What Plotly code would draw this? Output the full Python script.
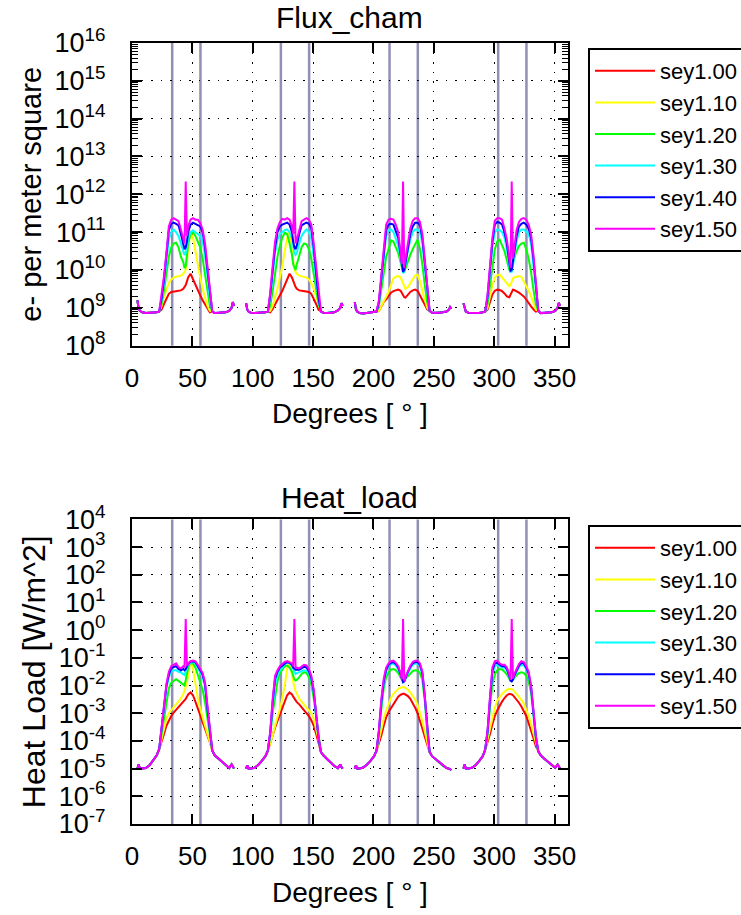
import plotly.graph_objects as go

# ---------------------------------------------------------------------------
# Angular layout: four 80-degree windows, one per quadrant, sampled at the
# same offsets (degrees) relative to each window centre.
# ---------------------------------------------------------------------------
segment_centres = [44.5, 134.5, 224.5, 314.5]
offsets_left = [-40, -39, -38, -36, -33, -30, -27, -24, -22]
offsets_core = [-20, -18, -16, -14, -12, -10, -8, -6, -4, -2, -1, 0, 1, 2,
                4, 6, 8, 10, 12, 14, 16, 18, 20]
offsets_right = [22, 24, 27, 30, 33, 36, 38, 39, 40]

# Angular position of the vertical reference lines (degrees)
marker_angles = [33.3, 56.7, 123.3, 146.7, 213.3, 236.7, 303.3, 326.7]

series_names = ["sey1.00", "sey1.10", "sey1.20", "sey1.30", "sey1.40", "sey1.50"]
series_colours = ["#ff0000", "#ffff00", "#00ff00", "#00ffff", "#0000ff", "#ff00ff"]

x_ticks = [0, 50, 100, 150, 200, 250, 300, 350]
flux_decades = [8, 9, 10, 11, 12, 13, 14, 15, 16]
heat_decades = [-7, -6, -5, -4, -3, -2, -1, 0, 1, 2, 3, 4]

# ---------------------------------------------------------------------------
# Flux_cham: log10(e- per m^2). Flat shoulders shared by all SEY values.
# ---------------------------------------------------------------------------
flux_log_left = [
    [9.20, 8.98, 8.92, 8.88, 8.86, 8.87, 8.86, 8.88, 8.90],
    [9.12, 8.95, 8.90, 8.87, 8.86, 8.86, 8.87, 8.88, 8.90],
    [9.15, 8.96, 8.90, 8.86, 8.85, 8.86, 8.87, 8.88, 8.90],
    [9.12, 8.96, 8.90, 8.87, 8.86, 8.87, 8.86, 8.88, 8.90],
]
flux_log_right = [
    [8.90, 8.86, 8.86, 8.87, 8.88, 8.92, 9.00, 9.15, 9.05],
    [8.90, 8.87, 8.86, 8.86, 8.88, 8.93, 9.00, 9.12, 9.05],
    [8.92, 8.87, 8.86, 8.87, 8.88, 8.90, 8.95, 9.02, 8.98],
    [8.92, 8.86, 8.86, 8.87, 8.88, 8.92, 9.00, 9.13, 9.05],
]

flux_log_sey100 = [
    [8.95, 9.10, 9.25, 9.37, 9.42, 9.44, 9.44, 9.45, 9.46, 9.50, 9.55, 9.60,
     9.70, 9.80, 9.90, 9.75, 9.60, 9.45, 9.33, 9.20, 9.08, 8.97, 8.88],
    [8.88, 8.97, 9.08, 9.20, 9.33, 9.45, 9.60, 9.75, 9.90, 9.80, 9.70, 9.60,
     9.55, 9.50, 9.46, 9.45, 9.44, 9.44, 9.42, 9.37, 9.25, 9.10, 8.95],
    [8.92, 9.05, 9.15, 9.22, 9.32, 9.40, 9.44, 9.47, 9.48, 9.45, 9.40, 9.33,
     9.28, 9.27, 9.35, 9.42, 9.46, 9.48, 9.45, 9.33, 9.20, 9.08, 8.96],
    [8.95, 9.15, 9.35, 9.45, 9.48, 9.47, 9.44, 9.38, 9.30, 9.28, 9.35, 9.45,
     9.48, 9.47, 9.44, 9.40, 9.35, 9.30, 9.22, 9.12, 9.04, 8.96, 8.90],
]
flux_log_sey110 = [
    [9.05, 9.30, 9.50, 9.65, 9.75, 9.80, 9.82, 9.83, 9.85, 9.90, 9.95, 10.00,
     10.20, 10.55, 11.00, 10.85, 10.50, 10.10, 9.80, 9.50, 9.25, 9.05, 8.92],
    [8.92, 9.05, 9.25, 9.50, 9.80, 10.10, 10.50, 10.85, 11.00, 10.55, 10.20, 10.00,
     9.95, 9.90, 9.85, 9.83, 9.82, 9.80, 9.75, 9.65, 9.50, 9.30, 9.05],
    [8.92, 9.05, 9.20, 9.32, 9.42, 9.60, 9.78, 9.82, 9.84, 9.80, 9.72, 9.65,
     9.55, 9.50, 9.55, 9.65, 9.75, 9.85, 9.88, 9.70, 9.45, 9.20, 9.00],
    [9.00, 9.30, 9.60, 9.80, 9.86, 9.88, 9.80, 9.72, 9.65, 9.57, 9.60, 9.68,
     9.78, 9.80, 9.82, 9.84, 9.82, 9.70, 9.60, 9.45, 9.30, 9.12, 8.95],
]
flux_log_sey120 = [
    [9.10, 9.45, 9.90, 10.35, 10.60, 10.70, 10.72, 10.60, 10.35, 10.20, 10.05, 10.10,
     10.40, 10.70, 10.95, 11.00, 10.90, 10.75, 10.60, 10.30, 9.85, 9.40, 9.05],
    [9.05, 9.45, 9.90, 10.35, 10.65, 10.85, 10.98, 10.95, 10.70, 10.40, 10.15, 10.05,
     10.00, 10.15, 10.35, 10.60, 10.70, 10.68, 10.55, 10.30, 9.90, 9.45, 9.10],
    [9.05, 9.50, 9.95, 10.35, 10.55, 10.78, 10.75, 10.60, 10.45, 10.20, 10.05, 9.95,
     9.95, 10.05, 10.20, 10.40, 10.55, 10.70, 10.80, 10.55, 10.15, 9.60, 9.15],
    [9.10, 9.60, 10.15, 10.55, 10.75, 10.80, 10.65, 10.50, 10.25, 10.00, 9.98, 10.05,
     10.20, 10.30, 10.50, 10.63, 10.70, 10.72, 10.55, 10.30, 9.95, 9.48, 9.10],
]
flux_log_sey130 = [
    [9.20, 9.65, 10.20, 10.80, 11.00, 11.07, 11.00, 10.90, 10.70, 10.45, 10.40, 10.45,
     10.60, 10.85, 11.00, 11.05, 11.00, 10.95, 10.90, 10.75, 10.40, 9.85, 9.25],
    [9.25, 9.85, 10.45, 10.80, 10.95, 11.00, 11.05, 11.07, 11.00, 10.85, 10.60, 10.45,
     10.40, 10.45, 10.70, 10.90, 11.00, 11.07, 11.00, 10.85, 10.35, 9.75, 9.20],
    [9.10, 9.65, 10.35, 10.90, 11.05, 11.07, 11.00, 10.85, 10.65, 10.30, 10.05, 9.92,
     9.95, 10.15, 10.50, 10.80, 11.00, 11.07, 11.07, 11.00, 10.70, 10.05, 9.45],
    [9.25, 9.90, 10.60, 11.00, 11.07, 11.05, 11.00, 10.85, 10.55, 10.10, 9.95, 9.95,
     10.10, 10.35, 10.75, 11.00, 11.07, 11.07, 11.00, 10.95, 10.70, 10.15, 9.45],
]
flux_log_sey140 = [
    [9.25, 9.75, 10.35, 11.05, 11.22, 11.25, 11.22, 11.18, 10.95, 10.65, 10.55, 10.60,
     10.75, 11.00, 11.20, 11.25, 11.22, 11.20, 11.15, 11.00, 10.60, 10.00, 9.35],
    [9.35, 10.00, 10.60, 11.00, 11.15, 11.20, 11.22, 11.25, 11.20, 11.00, 10.75, 10.60,
     10.55, 10.65, 10.95, 11.18, 11.22, 11.25, 11.22, 11.10, 10.60, 10.00, 9.25],
    [9.15, 9.75, 10.50, 11.05, 11.20, 11.22, 11.20, 11.05, 10.85, 10.40, 10.10, 9.95,
     10.00, 10.20, 10.60, 10.95, 11.15, 11.25, 11.25, 11.18, 10.85, 10.20, 9.55],
    [9.30, 10.00, 10.75, 11.20, 11.27, 11.25, 11.20, 11.00, 10.70, 10.20, 9.98, 10.00,
     10.20, 10.45, 10.90, 11.15, 11.22, 11.25, 11.20, 11.10, 10.85, 10.30, 9.50],
]
flux_log_sey150 = [
    [9.31, 9.84, 10.45, 11.15, 11.33, 11.37, 11.33, 11.29, 11.07, 10.80, 10.70, 12.34,
     10.90, 11.15, 11.33, 11.37, 11.33, 11.33, 11.24, 11.07, 10.70, 10.10, 9.40],
    [9.40, 10.10, 10.75, 11.10, 11.27, 11.35, 11.33, 11.37, 11.33, 11.15, 10.95, 12.34,
     10.70, 10.80, 11.07, 11.29, 11.33, 11.37, 11.33, 11.20, 10.70, 10.10, 9.35],
    [9.20, 9.92, 10.65, 11.20, 11.33, 11.35, 11.33, 11.20, 11.00, 10.50, 10.15, 12.34,
     10.05, 10.30, 10.75, 11.10, 11.30, 11.37, 11.37, 11.27, 10.95, 10.30, 9.60],
    [9.35, 10.10, 10.85, 11.30, 11.37, 11.37, 11.33, 11.10, 10.80, 10.30, 10.05, 12.34,
     10.30, 10.55, 11.05, 11.27, 11.35, 11.37, 11.33, 11.20, 10.95, 10.40, 9.60],
]

# ---------------------------------------------------------------------------
# Heat_load: log10(W/m^2). Flat shoulders shared by all SEY values.
# ---------------------------------------------------------------------------
heat_log_left = [
    [-5.00, -4.85, -5.00, -5.00, -4.98, -4.88, -4.72, -4.52, -4.30],
    [-5.00, -4.88, -5.00, -5.00, -4.97, -4.87, -4.72, -4.55, -4.35],
    [-5.00, -4.88, -5.00, -5.00, -4.96, -4.86, -4.72, -4.55, -4.35],
    [-5.00, -4.85, -5.00, -5.00, -4.97, -4.88, -4.73, -4.55, -4.32],
]
heat_log_right = [
    [-4.35, -4.52, -4.63, -4.75, -4.88, -4.98, -4.85, -4.95, -5.00],
    [-4.40, -4.52, -4.65, -4.77, -4.90, -4.98, -4.85, -4.95, -5.00],
    [-4.40, -4.55, -4.66, -4.78, -4.90, -4.98, -5.00, -5.02, -5.05],
    [-4.38, -4.52, -4.64, -4.76, -4.88, -4.97, -4.85, -4.95, -5.00],
]

heat_log_sey100 = [
    [-4.05, -3.75, -3.45, -3.25, -3.10, -2.98, -2.88, -2.78, -2.68, -2.60, -2.55, -2.48,
     -2.40, -2.32, -2.25, -2.35, -2.58, -2.82, -3.05, -3.28, -3.52, -3.78, -4.05],
    [-4.05, -3.78, -3.52, -3.28, -3.05, -2.82, -2.58, -2.35, -2.25, -2.32, -2.40, -2.48,
     -2.55, -2.60, -2.68, -2.78, -2.88, -2.98, -3.10, -3.25, -3.45, -3.75, -4.05],
    [-4.10, -3.80, -3.45, -3.15, -2.95, -2.80, -2.65, -2.50, -2.40, -2.33, -2.30, -2.30,
     -2.30, -2.32, -2.38, -2.48, -2.62, -2.80, -3.00, -3.25, -3.55, -3.85, -4.15],
    [-4.05, -3.75, -3.40, -3.10, -2.90, -2.72, -2.58, -2.45, -2.35, -2.30, -2.30, -2.32,
     -2.35, -2.40, -2.50, -2.62, -2.76, -2.92, -3.10, -3.35, -3.60, -3.90, -4.20],
]
heat_log_sey110 = [
    [-3.95, -3.55, -3.20, -3.00, -2.88, -2.78, -2.68, -2.58, -2.47, -2.30, -2.20, -2.05,
     -1.90, -1.65, -1.10, -1.40, -2.00, -2.45, -2.85, -3.15, -3.45, -3.80, -4.10],
    [-4.10, -3.80, -3.45, -3.15, -2.85, -2.45, -2.00, -1.40, -1.10, -1.65, -1.90, -2.05,
     -2.20, -2.30, -2.47, -2.58, -2.68, -2.78, -2.88, -3.00, -3.20, -3.55, -3.95],
    [-3.95, -3.60, -3.20, -2.90, -2.65, -2.45, -2.30, -2.20, -2.12, -2.08, -2.06, -2.05,
     -2.06, -2.08, -2.15, -2.25, -2.38, -2.50, -2.70, -2.98, -3.30, -3.65, -4.00],
    [-3.95, -3.55, -3.10, -2.80, -2.55, -2.40, -2.30, -2.22, -2.15, -2.12, -2.12, -2.13,
     -2.15, -2.20, -2.28, -2.40, -2.52, -2.65, -2.85, -3.10, -3.40, -3.75, -4.10],
]
heat_log_sey120 = [
    [-3.75, -3.10, -2.60, -2.10, -1.90, -1.82, -1.77, -1.83, -1.89, -1.95, -2.00, -1.80,
     -1.50, -1.35, -1.17, -1.20, -1.35, -1.60, -1.85, -2.15, -2.60, -3.15, -3.75],
    [-3.80, -3.00, -2.35, -1.85, -1.55, -1.40, -1.30, -1.28, -1.35, -1.50, -1.65, -1.78,
     -1.82, -1.80, -1.70, -1.58, -1.52, -1.55, -1.70, -1.95, -2.45, -3.10, -3.80],
    [-3.75, -2.85, -2.10, -1.70, -1.52, -1.42, -1.40, -1.45, -1.55, -1.72, -1.80, -1.83,
     -1.80, -1.75, -1.65, -1.55, -1.48, -1.45, -1.46, -1.55, -1.80, -2.55, -3.65],
    [-3.75, -2.80, -1.95, -1.60, -1.45, -1.40, -1.42, -1.50, -1.60, -1.75, -1.82, -1.83,
     -1.80, -1.72, -1.62, -1.55, -1.52, -1.55, -1.65, -1.85, -2.25, -3.10, -3.90],
]
heat_log_sey130 = [
    [-3.60, -2.75, -2.10, -1.70, -1.50, -1.45, -1.45, -1.50, -1.52, -1.60, -1.62, -1.50,
     -1.35, -1.25, -1.17, -1.15, -1.20, -1.35, -1.50, -1.68, -2.05, -2.90, -3.65],
    [-3.75, -2.80, -1.95, -1.65, -1.45, -1.35, -1.22, -1.18, -1.20, -1.30, -1.42, -1.50,
     -1.58, -1.55, -1.52, -1.48, -1.45, -1.47, -1.55, -1.78, -2.25, -3.10, -3.95],
    [-3.70, -2.70, -1.95, -1.50, -1.30, -1.22, -1.20, -1.28, -1.40, -1.62, -1.80, -1.88,
     -1.85, -1.75, -1.55, -1.38, -1.25, -1.20, -1.20, -1.30, -1.60, -2.45, -3.60],
    [-3.70, -2.60, -1.60, -1.30, -1.25, -1.30, -1.35, -1.35, -1.45, -1.68, -1.82, -1.85,
     -1.80, -1.68, -1.50, -1.33, -1.25, -1.27, -1.40, -1.60, -2.10, -3.00, -3.90],
]
heat_log_sey140 = [
    [-3.55, -2.65, -2.00, -1.60, -1.38, -1.33, -1.30, -1.40, -1.45, -1.40, -1.45, -1.40,
     -1.30, -1.22, -1.13, -1.12, -1.15, -1.28, -1.45, -1.60, -1.95, -2.85, -3.62],
    [-3.70, -2.60, -1.75, -1.50, -1.35, -1.28, -1.20, -1.15, -1.18, -1.25, -1.35, -1.38,
     -1.43, -1.42, -1.43, -1.38, -1.32, -1.35, -1.48, -1.72, -2.20, -3.05, -3.90],
    [-3.65, -2.60, -1.85, -1.42, -1.25, -1.18, -1.15, -1.22, -1.35, -1.60, -1.80, -1.88,
     -1.85, -1.72, -1.50, -1.32, -1.20, -1.15, -1.15, -1.25, -1.55, -2.40, -3.55],
    [-3.65, -2.50, -1.45, -1.20, -1.18, -1.25, -1.30, -1.30, -1.40, -1.65, -1.82, -1.85,
     -1.78, -1.65, -1.45, -1.28, -1.18, -1.20, -1.35, -1.55, -2.05, -2.95, -3.85],
]
heat_log_sey150 = [
    [-3.50, -2.60, -1.95, -1.50, -1.30, -1.25, -1.20, -1.33, -1.38, -1.30, -1.35, 0.40,
     -1.30, -1.20, -1.12, -1.10, -1.13, -1.25, -1.40, -1.55, -1.90, -2.80, -3.60],
    [-3.65, -2.50, -1.65, -1.45, -1.30, -1.22, -1.15, -1.12, -1.15, -1.20, -1.30, 0.40,
     -1.38, -1.35, -1.38, -1.30, -1.25, -1.27, -1.40, -1.65, -2.15, -3.00, -3.85],
    [-3.60, -2.50, -1.75, -1.35, -1.20, -1.12, -1.10, -1.18, -1.30, -1.55, -1.78, 0.40,
     -1.85, -1.70, -1.45, -1.28, -1.15, -1.10, -1.10, -1.20, -1.50, -2.35, -3.50],
    [-3.60, -2.40, -1.35, -1.12, -1.10, -1.20, -1.25, -1.25, -1.35, -1.60, -1.80, 0.40,
     -1.75, -1.60, -1.40, -1.22, -1.12, -1.15, -1.30, -1.50, -2.00, -2.90, -3.80],
]

flux_series = [flux_log_sey100, flux_log_sey110, flux_log_sey120,
               flux_log_sey130, flux_log_sey140, flux_log_sey150]
heat_series = [heat_log_sey100, heat_log_sey110, heat_log_sey120,
               heat_log_sey130, heat_log_sey140, heat_log_sey150]


def assemble(edge_left, core, edge_right):
    """Join the four angular windows into one polyline, broken between windows."""
    xs, ys = [], []
    offsets = offsets_left + offsets_core + offsets_right
    for k, centre in enumerate(segment_centres):
        logs = edge_left[k] + core[k] + edge_right[k]
        xs += [centre + o for o in offsets] + [None]
        ys += [10 ** v for v in logs] + [None]
    return xs, ys


def power_labels(decades):
    return [10.0 ** d for d in decades], [f"10<sup>{d}</sup>" for d in decades]


def minor_positions(decades):
    return [m * 10.0 ** d for d in decades[:-1] for m in range(2, 10)]


FONT = "Liberation Sans, Arial, Helvetica, sans-serif"

fig = go.Figure()

for name, colour, core in zip(series_names, series_colours, flux_series):
    xs, ys = assemble(flux_log_left, core, flux_log_right)
    fig.add_trace(go.Scatter(x=xs, y=ys, mode="lines", name=name,
                             line=dict(color=colour, width=2),
                             xaxis="x", yaxis="y", legend="legend",
                             connectgaps=False))

for name, colour, core in zip(series_names, series_colours, heat_series):
    xs, ys = assemble(heat_log_left, core, heat_log_right)
    fig.add_trace(go.Scatter(x=xs, y=ys, mode="lines", name=name,
                             line=dict(color=colour, width=2),
                             xaxis="x2", yaxis="y2", legend="legend2",
                             connectgaps=False))

# Empty trace that carries the overlay axis used for the minor log ticks
fig.add_trace(go.Scatter(x=[], y=[], xaxis="x", yaxis="y3", mode="lines",
                         showlegend=False, hoverinfo="skip"))

# Vertical reference lines in both panels
for xa, ya in (("x", "y"), ("x2", "y2")):
    for ang in marker_angles:
        fig.add_shape(type="line", xref=xa, yref=f"{ya} domain",
                      x0=ang, x1=ang, y0=0, y1=1, layer="below",
                      line=dict(color="rgba(125,125,170,0.85)", width=2.5))

grid_style = dict(showgrid=True, gridcolor="black", gridwidth=1,
                  griddash="1.5px,8px")
frame_style = dict(showline=True, linecolor="black", linewidth=2,
                   mirror="ticks", ticks="inside", ticklen=10,
                   tickwidth=1.5, tickcolor="black", zeroline=False)

x_common = dict(range=[0, 361], tickvals=x_ticks,
                tickfont=dict(size=26, family=FONT, color="black"),
                ticklabelstandoff=8,
                title=dict(text="Degrees [ ° ]",
                           font=dict(size=28, family=FONT, color="black"),
                           standoff=12),
                **grid_style, **frame_style)

legend_common = dict(bgcolor="white", bordercolor="black", borderwidth=2,
                     font=dict(size=22, family=FONT, color="black"),
                     xref="container", yref="container",
                     xanchor="left", yanchor="top", itemwidth=60,
                     tracegroupgap=0)

flux_tickvals, flux_ticktext = power_labels(flux_decades)
heat_tickvals, heat_ticktext = power_labels(heat_decades)

fig.update_layout(
    width=741, height=915,
    paper_bgcolor="white", plot_bgcolor="white",
    margin=dict(l=132, r=164, t=43, b=90),
    font=dict(family=FONT, color="black"),
    xaxis=dict(anchor="y", domain=[0, 1], **x_common),
    xaxis2=dict(anchor="y2", domain=[0, 1], **x_common),
    yaxis=dict(anchor="x", domain=[0.6125, 1.0], type="log",
               range=[8, 16], tickvals=flux_tickvals, ticktext=flux_ticktext,
               tickfont=dict(size=27, family=FONT, color="black"),
               ticklabelstandoff=19,
               title=dict(text="e- per meter square",
                          font=dict(size=29, family=FONT, color="black"),
                          standoff=4),
               **grid_style, **frame_style),
    yaxis3=dict(overlaying="y", anchor="x", side="left", type="log",
                range=[8, 16], tickvals=minor_positions(flux_decades),
                ticks="inside", ticklen=6, tickwidth=1.2, tickcolor="black",
                mirror="ticks", showline=False, showgrid=False,
                showticklabels=False, zeroline=False),
    yaxis2=dict(anchor="x2", domain=[0, 0.39], type="log",
                range=[-7, 4], tickvals=heat_tickvals, ticktext=heat_ticktext,
                tickfont=dict(size=27, family=FONT, color="black"),
                ticklabelstandoff=19,
                title=dict(text="Heat Load [W/m^2]",
                           font=dict(size=32, family=FONT, color="black"),
                           standoff=4),
                **grid_style, **frame_style),
    legend=dict(x=588 / 741, y=1 - 48 / 915, **legend_common),
    legend2=dict(x=588 / 741, y=1 - 525 / 915, **legend_common),
    showlegend=True,
    annotations=[
        dict(text="Flux_cham", xref="paper", yref="paper", x=0.5, y=1.0332,
             xanchor="center", yanchor="middle", showarrow=False,
             font=dict(size=30, family=FONT, color="black")),
        dict(text="Heat_load", xref="paper", yref="paper", x=0.5, y=0.4175,
             xanchor="center", yanchor="middle", showarrow=False,
             font=dict(size=30, family=FONT, color="black")),
    ],
)

fig.write_html("out.html")
